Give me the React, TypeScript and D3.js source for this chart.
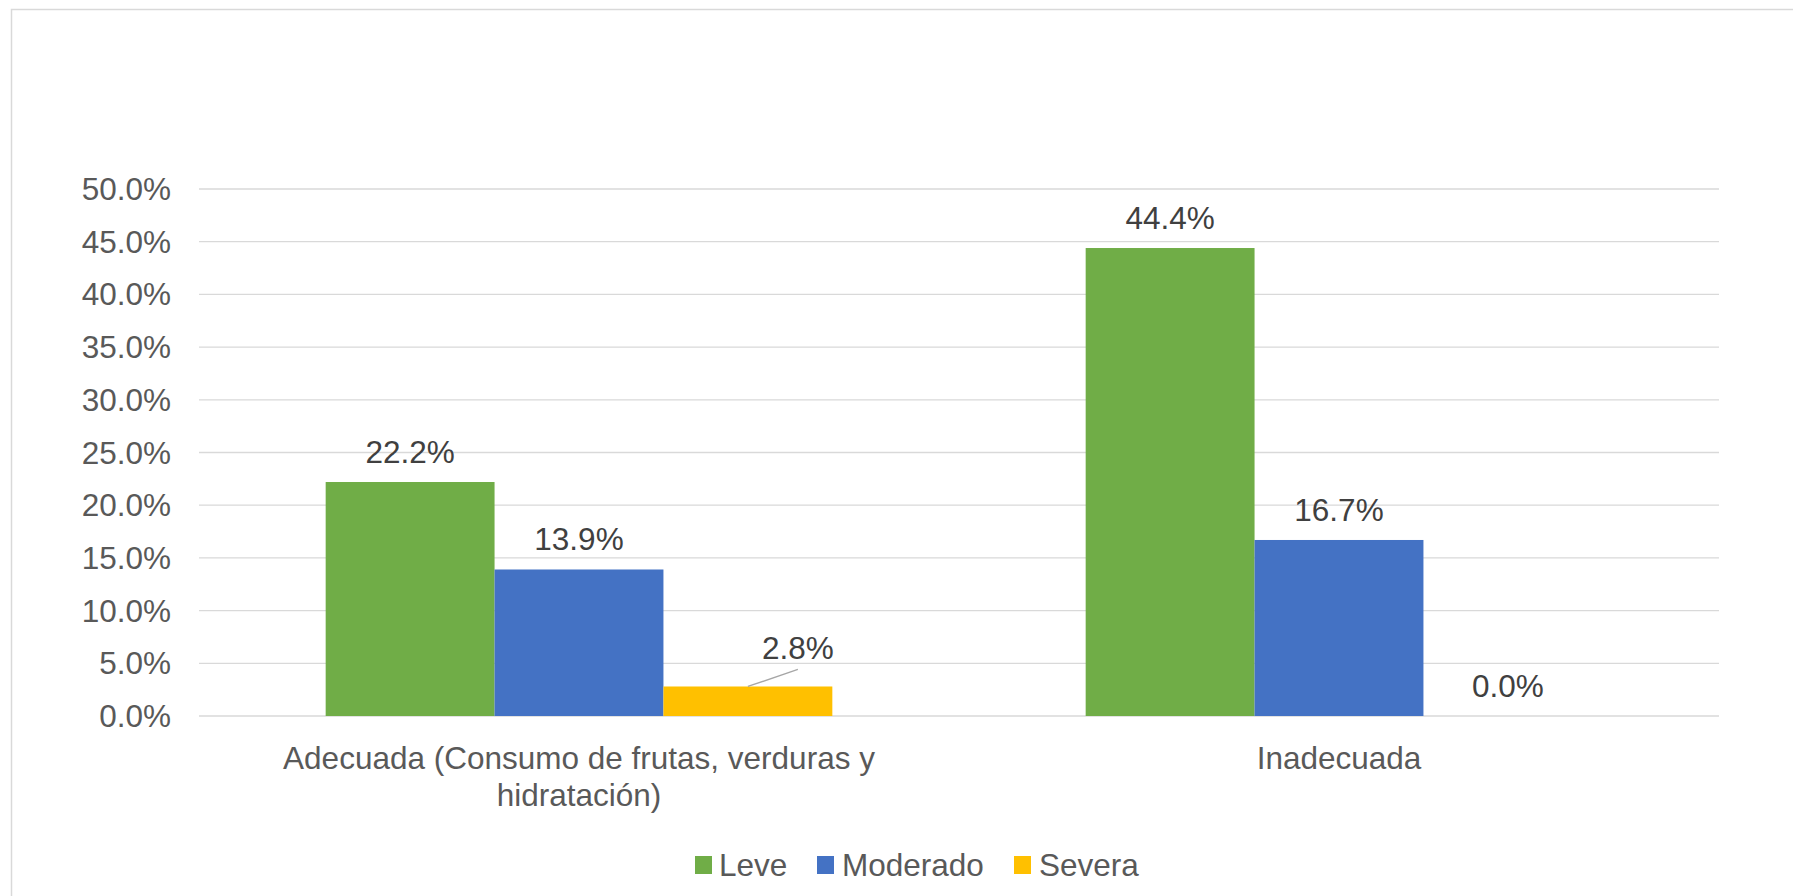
import React from "react";
import * as d3 from "d3";

const categories = ["Adecuada (Consumo de frutas, verduras y hidratación)", "Inadecuada"];
const categoryLines = [["Adecuada (Consumo de frutas, verduras y", "hidratación)"], ["Inadecuada"]];
const seriesNames = ["Leve", "Moderado", "Severa"];
const leve = [0.222, 0.444];
const moderado = [0.139, 0.167];
const severa = [0.028, 0.0];
const yTicks = [0, 0.05, 0.1, 0.15, 0.2, 0.25, 0.3, 0.35, 0.4, 0.45, 0.5];

const colors = ["#70AD47", "#4472C4", "#FFC000"];
const FONT = "'Liberation Sans', Arial, sans-serif";
const FS = 31.5;

export default function App() {
  const W = 1793, H = 896;
  const left = 199, right = 1719, top = 189, bottom = 716;
  const x0 = d3.scaleBand<string>().domain(categories).range([left, right]).paddingInner(0).paddingOuter(0);
  const x1 = d3.scaleBand<string>().domain(seriesNames).range([0, x0.bandwidth()]).paddingInner(0).paddingOuter(0.75);
  const y = d3.scaleLinear().domain([0, 0.5]).range([bottom, top]);
  const fmt = d3.format(".1%");
  const series = [leve, moderado, severa];

  const legendItems = [
    { name: "Leve", sx: 695, tx: 719 },
    { name: "Moderado", sx: 817, tx: 842 },
    { name: "Severa", sx: 1014, tx: 1039 },
  ];

  return (
    <svg width={W} height={H} style={{ position: "fixed", left: 0, top: 0, background: "#fff" }} fontFamily={FONT}>
      <rect x={0} y={0} width={W} height={H} fill="#fff" />
      <rect x={11.5} y={9.5} width={1810} height={920} fill="none" stroke="#d9d9d9" strokeWidth={1.5} />
      {yTicks.map((t) => (
        <g key={t}>
          <line x1={left} x2={right} y1={y(t)} y2={y(t)} stroke="#d9d9d9" strokeWidth={1.3} />
          <text x={171} y={y(t)} dy="0.35em" textAnchor="end" fontSize={FS} fill="#595959">{fmt(t)}</text>
        </g>
      ))}
      {categories.map((c, ci) => (
        <g key={c}>
          {series.map((vals, si) => {
            const bx = (x0(c) as number) + (x1(seriesNames[si]) as number);
            const bw = x1.bandwidth();
            const v = vals[ci];
            const cx = bx + bw / 2;
            const isSmall = si === 2 && ci === 0;
            return (
              <g key={si}>
                {v > 0 && <rect x={bx} y={y(v)} width={bw} height={bottom - y(v)} fill={colors[si]} />}
                {isSmall ? (
                  <g>
                    <line x1={cx} y1={y(v)} x2={cx + 50} y2={y(v) - 17} stroke="#a6a6a6" strokeWidth={1.3} />
                    <text x={cx + 50} y={y(v) - 27} textAnchor="middle" fontSize={FS} fill="#404040">{fmt(v)}</text>
                  </g>
                ) : (
                  <text x={cx} y={y(v) - 19} textAnchor="middle" fontSize={FS} fill="#404040">{fmt(v)}</text>
                )}
              </g>
            );
          })}
          {categoryLines[ci].map((ln, li) => (
            <text key={li} x={(x0(c) as number) + x0.bandwidth() / 2} y={769 + li * 37} textAnchor="middle" fontSize={FS} fill="#595959">{ln}</text>
          ))}
        </g>
      ))}
      {legendItems.map((it, i) => (
        <g key={it.name}>
          <rect x={it.sx} y={856} width={17} height={18} fill={colors[i]} />
          <text x={it.tx} y={876} fontSize={FS} fill="#595959">{it.name}</text>
        </g>
      ))}
    </svg>
  );
}
